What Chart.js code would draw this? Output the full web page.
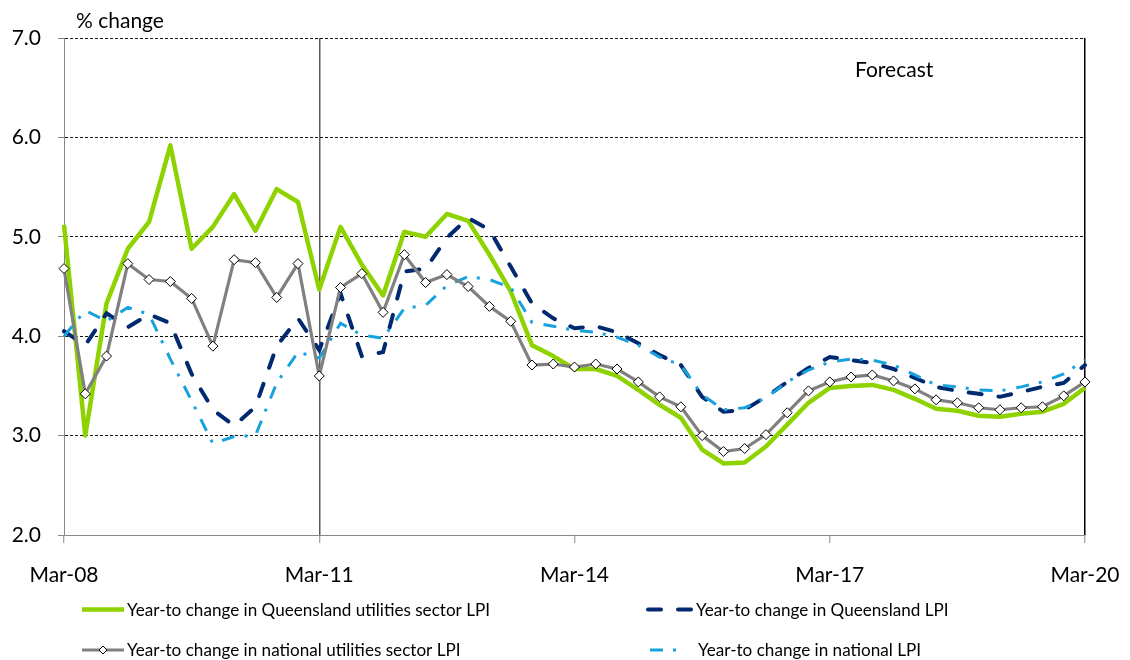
<!DOCTYPE html>
<html>
<head>
<meta charset="utf-8">
<script src="https://cdn.jsdelivr.net/npm/chart.js@4.4.1/dist/chart.umd.min.js"></script>
<style>
html,body{margin:0;padding:0;background:#fff;}
#wrap{width:1130px;height:660px;position:relative;}
</style>
</head>
<body>
<div id="wrap"><canvas id="c"></canvas></div>
<script>
const categories = [
  'Mar-08','Jun-08','Sep-08','Dec-08','Mar-09','Jun-09','Sep-09','Dec-09',
  'Mar-10','Jun-10','Sep-10','Dec-10','Mar-11','Jun-11','Sep-11','Dec-11',
  'Mar-12','Jun-12','Sep-12','Dec-12','Mar-13','Jun-13','Sep-13','Dec-13',
  'Mar-14','Jun-14','Sep-14','Dec-14','Mar-15','Jun-15','Sep-15','Dec-15',
  'Mar-16','Jun-16','Sep-16','Dec-16','Mar-17','Jun-17','Sep-17','Dec-17',
  'Mar-18','Jun-18','Sep-18','Dec-18','Mar-19','Jun-19','Sep-19','Dec-19',
  'Mar-20'
];
const tickLabels = ['Mar-08','Mar-11','Mar-14','Mar-17','Mar-20'];
const forecastStart = 'Mar-11';

const qldUtilities = [5.12,3.00,4.33,4.88,5.15,5.92,4.88,5.10,5.43,5.06,5.48,5.35,
  4.47,5.10,4.72,4.41,5.05,5.00,5.23,5.16,4.82,4.45,3.91,3.80,
  3.67,3.67,3.60,3.46,3.31,3.18,2.86,2.72,2.73,2.89,3.11,3.33,
  3.48,3.50,3.51,3.46,3.37,3.27,3.25,3.20,3.19,3.22,3.24,3.32,
  3.48];
const qldLPI = [4.05,3.91,4.23,4.09,4.22,4.13,3.62,3.26,3.10,3.29,3.90,4.18,
  3.86,4.43,3.80,3.84,4.65,4.68,4.99,5.19,5.07,4.70,4.33,4.18,
  4.08,4.10,4.04,3.93,3.81,3.71,3.39,3.24,3.26,3.39,3.54,3.68,
  3.79,3.76,3.73,3.67,3.58,3.49,3.45,3.42,3.39,3.44,3.49,3.53,
  3.71];
const natUtilities = [4.68,3.42,3.80,4.73,4.57,4.55,4.38,3.90,4.77,4.74,4.39,4.73,
  3.60,4.49,4.63,4.24,4.82,4.54,4.62,4.50,4.30,4.15,3.71,3.72,
  3.69,3.72,3.67,3.54,3.39,3.29,3.00,2.84,2.87,3.01,3.23,3.45,
  3.54,3.59,3.61,3.55,3.47,3.36,3.33,3.28,3.26,3.28,3.29,3.40,
  3.54];
const natLPI = [4.00,4.26,4.15,4.29,4.22,3.77,3.35,2.92,2.99,3.00,3.53,3.84,
  3.78,4.13,4.01,3.98,4.28,4.31,4.51,4.60,4.57,4.49,4.14,4.10,
  4.06,4.04,3.99,3.91,3.79,3.71,3.41,3.26,3.28,3.38,3.54,3.66,
  3.74,3.77,3.76,3.71,3.61,3.51,3.49,3.46,3.45,3.49,3.54,3.62,
  3.76];

const seriesNames = [
  'Year-to change in Queensland utilities sector LPI',
  'Year-to change in Queensland LPI',
  'Year-to change in national utilities sector LPI',
  'Year-to change in national LPI'
];
const yTitle = '% change';
const annotation = 'Forecast';

const FONT = 'Lato, "Open Sans", "Liberation Sans", sans-serif';
const TRANSPARENT = 'rgba(0,0,0,0)';

const datasets = [
  { label: seriesNames[2], data: natUtilities, borderColor: '#808080', borderWidth: 3.2,
    pointStyle: 'rectRot', pointRadius: 5, pointBackgroundColor: '#ffffff',
    pointBorderColor: '#000000', pointBorderWidth: 1, tension: 0, fill: false },
  { label: seriesNames[3], data: natLPI, borderColor: '#17a1dd', borderWidth: 3,
    borderDash: [13, 10, 3, 11], pointRadius: 0, tension: 0, fill: false },
  { label: seriesNames[1], data: qldLPI, borderColor: '#00296f', borderWidth: 4,
    borderDash: [13, 17], borderCapStyle: 'round', pointRadius: 0, tension: 0, fill: false },
  { label: seriesNames[0], data: qldUtilities, borderColor: '#8ed300', borderWidth: 4.5,
    borderJoinStyle: 'round', pointRadius: 0, tension: 0, fill: false }
];

const legendLayout = [
  { name: seriesNames[0], x1: 82, x2: 124, ly: 609.5, tx: 127, ty: 615.5 },
  { name: seriesNames[1], x1: 648, x2: 693, ly: 609.5, tx: 696, ty: 615.5 },
  { name: seriesNames[2], x1: 82, x2: 124, ly: 650, tx: 127, ty: 656 },
  { name: seriesNames[3], x1: 650, x2: 683, ly: 650, tx: 698, ty: 656 }
];

const overlay = {
  id: 'overlay',
  afterDraw(chart) {
    const ctx = chart.ctx;
    ctx.save();
    ctx.fillStyle = '#000';
    ctx.textBaseline = 'alphabetic';
    ctx.font = '21px ' + FONT;
    ctx.textAlign = 'left';
    ctx.fillText(yTitle, 76, 28);
    ctx.fillText(annotation, 855, 77);

    ctx.font = '17px ' + FONT;
    const k = 363 / ctx.measureText(seriesNames[0]).width;
    legendLayout.forEach(item => {
      const ds = chart.data.datasets.find(d => d.label === item.name);
      ctx.save();
      ctx.strokeStyle = ds.borderColor;
      ctx.lineWidth = ds.borderWidth;
      ctx.setLineDash(ds.borderDash || []);
      ctx.lineCap = ds.borderCapStyle || 'butt';
      ctx.beginPath();
      ctx.moveTo(item.x1, item.ly);
      ctx.lineTo(item.x2, item.ly);
      ctx.stroke();
      ctx.restore();
      if (ds.pointStyle === 'rectRot') {
        const cx = (item.x1 + item.x2) / 2, r = 4;
        ctx.save();
        ctx.beginPath();
        ctx.moveTo(cx - r, item.ly); ctx.lineTo(cx, item.ly - r);
        ctx.lineTo(cx + r, item.ly); ctx.lineTo(cx, item.ly + r);
        ctx.closePath();
        ctx.fillStyle = '#fff'; ctx.fill();
        ctx.strokeStyle = '#000'; ctx.lineWidth = 1; ctx.stroke();
        ctx.restore();
      }
      ctx.save();
      ctx.fillStyle = '#000';
      ctx.translate(item.tx, item.ty);
      ctx.scale(k, 1);
      ctx.fillText(item.name, 0, 0);
      ctx.restore();
    });
    ctx.restore();
  }
};

new Chart(document.getElementById('c'), {
  type: 'line',
  data: { labels: categories, datasets },
  plugins: [overlay],
  options: {
    responsive: true,
    maintainAspectRatio: false,
    animation: false,
    layout: { padding: { top: 38, right: 45, left: 0, bottom: 0 } },
    plugins: { legend: { display: false }, tooltip: { enabled: false }, title: { display: false } },
    scales: {
      x: {
        type: 'category',
        offset: false,
        ticks: {
          autoSkip: false, maxRotation: 0, minRotation: 0,
          callback: (v, i) => tickLabels.includes(categories[i]) ? categories[i] : '',
          color: '#000', font: { family: FONT, size: 21 }, padding: 20
        },
        grid: {
          drawOnChartArea: true,
          color: c => categories[c.index] === forecastStart ? '#5a5a5a'
                      : (c.index === categories.length - 1 ? '#000000' : TRANSPARENT),
          lineWidth: 1.5,
          tickLength: 8,
          tickColor: c => tickLabels.includes(categories[c.index]) ? '#888888' : TRANSPARENT,
          tickWidth: 1
        },
        border: { display: true, color: '#888888', width: 1 },
        afterFit: s => { s.height = 125; s.paddingLeft = 0; s.paddingRight = 0; }
      },
      y: {
        min: 2, max: 7,
        ticks: {
          stepSize: 1,
          callback: v => Number(v).toFixed(1),
          color: '#000', font: { family: FONT, size: 21 }, padding: 17
        },
        grid: {
          color: c => c.index === 0 ? TRANSPARENT : '#111111',
          lineWidth: 1,
          tickLength: 6,
          tickColor: '#888888',
          tickWidth: 1
        },
        border: { display: true, color: '#888888', width: 1, dash: [3, 2] },
        afterFit: s => { s.width = 64; }
      }
    }
  }
});
</script>
</body>
</html>
